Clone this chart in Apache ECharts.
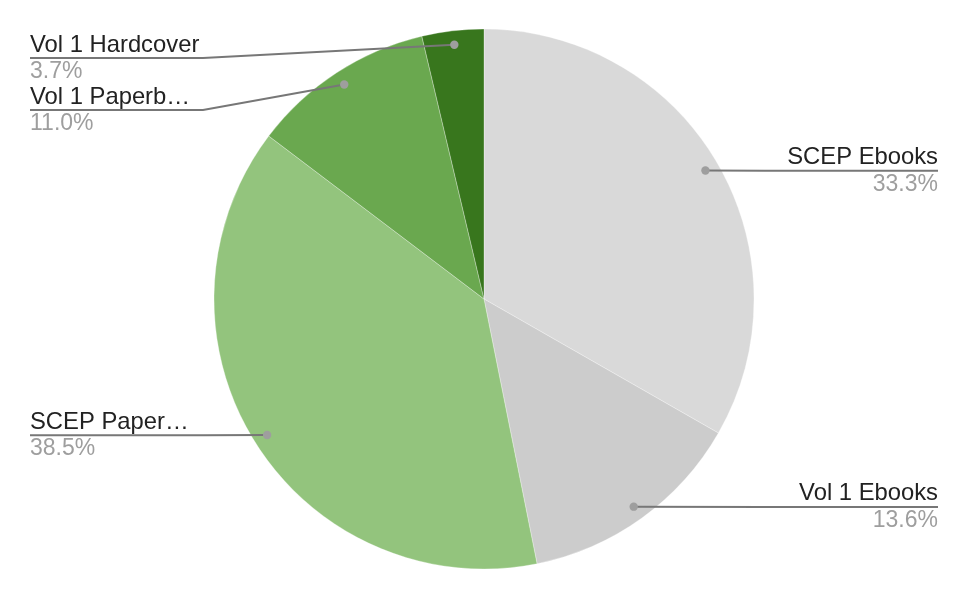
<!DOCTYPE html>
<html><head><meta charset="utf-8">
<script src="https://cdn.jsdelivr.net/npm/echarts@6/dist/echarts.min.js"></script>
<style>html,body{margin:0;padding:0;background:#fff}#c{width:968px;height:600px}</style>
</head><body><div id="c"></div>
<script>
const categories = ['SCEP Ebooks', 'Vol 1 Ebooks', 'SCEP Paper…', 'Vol 1 Paperb…', 'Vol 1 Hardcover'];
const values = [33.3, 13.6, 38.5, 11.0, 3.7];
const colors = ['#d9d9d9', '#cccccc', '#93c47d', '#6aa84f', '#38761d'];

const W = 968, TOP = 32, CX = 484, CY = 299, R = 270, RL = 256, EDGE = 30, HSEG = 173;
const FONT = '"Liberation Sans", Arial, sans-serif';
const total = values.reduce((a, b) => a + b, 0);

const chart = echarts.init(document.getElementById('c'), null, {renderer: 'canvas'});
const pieData = categories.map((n, i) => ({name: n, value: values[i], itemStyle: {color: colors[i]}}));
const labelData = categories.map((n, i) => ({name: n, value: values[i]}));

chart.setOption({
  animation: false,
  backgroundColor: '#fff',
  series: [
    {
      type: 'pie', left: 0, top: TOP, right: 0, bottom: 0,
      center: [CX, CY - TOP], radius: R, startAngle: 90, clockwise: true,
      label: {show: false}, labelLine: {show: false}, silent: true,
      itemStyle: {borderColor: 'rgba(255,255,255,0.6)', borderWidth: 0.5},
      data: pieData
    },
    {
      type: 'pie', left: 0, top: TOP, right: 0, bottom: 0,
      center: [CX, CY - TOP], radius: RL, startAngle: 90, clockwise: true,
      silent: true, z: 5,
      itemStyle: {color: 'rgba(0,0,0,0)'},
      avoidLabelOverlap: true,
      label: {
        show: true, position: 'outside', alignTo: 'edge', edgeDistance: EDGE,
        fontFamily: FONT,
        formatter: p => '{n|' + p.name + '}\n{p|' + (p.value / total * 100).toFixed(1) + '%}',
        rich: {
          n: {fontSize: 23.8, color: '#222222', lineHeight: 27.5, fontFamily: FONT},
          p: {fontSize: 23, color: '#9e9e9e', lineHeight: 25.5, fontFamily: FONT}
        }
      },
      labelLine: {show: true, length: 0, length2: 10, smooth: false,
        lineStyle: {color: '#777777', width: 2}},
      labelLayout: function (params) {
        const pts = params.labelLinePoints;
        if (!pts) return {};
        const r = params.labelRect;
        const y = r.y + r.height / 2;
        const p0 = pts[0];
        const left = p0[0] < CX;
        const ex = left ? EDGE : W - EDGE;
        const mx = left ? Math.min(EDGE + HSEG, p0[0]) : Math.max(W - EDGE - HSEG, p0[0]);
        return {labelLinePoints: [[p0[0], p0[1]], [mx, y], [ex, y]]};
      },
      data: labelData
    }
  ]
});

const sd = chart.getModel().getSeriesByIndex(1).getData();
const dots = [];
for (let i = 0; i < sd.count(); i++) {
  const l = sd.getItemLayout(i);
  const mid = (l.startAngle + l.endAngle) / 2;
  dots.push({type: 'circle', z: 100, silent: true,
    shape: {cx: l.cx + l.r * Math.cos(mid), cy: l.cy + l.r * Math.sin(mid), r: 4.2},
    style: {fill: '#9e9e9e'}});
}
chart.setOption({graphic: dots});
</script>
</body></html>
